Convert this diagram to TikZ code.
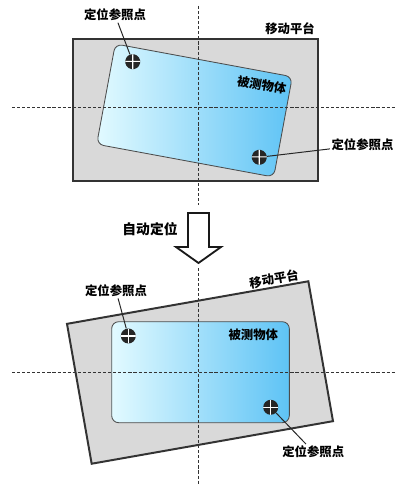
\documentclass[tikz,border=0pt]{standalone}
\usepackage{fontspec}
\setmainfont{Noto Sans CJK SC}
\definecolor{partL}{HTML}{E2FAFF}
\definecolor{partR}{HTML}{5EC3F5}
\begin{document}
\begin{tikzpicture}[x=0.025cm, y=-0.025cm,
    lbl/.style={font=\fontsize{8.8}{10}\selectfont\bfseries, inner sep=1pt},
    guide/.style={draw=black!80, line width=1.05pt, dash pattern=on 2.2pt off 1.4pt},
    stage/.style={draw=black!80, line width=1.4pt, fill=black!15, inner sep=0pt,
        minimum width=6.125cm, minimum height=3.55cm},
    part/.style={draw=black!70, line width=0.6pt, rounded corners=5pt, inner sep=0pt,
        left color=partL, right color=partR},
    refmark/.style={circle, fill=black!85, minimum size=0.375cm, inner sep=0pt,
        path picture={\draw[white, line width=0.8pt]
            (path picture bounding box.north) -- (path picture bounding box.south)
            (path picture bounding box.west) -- (path picture bounding box.east);}},
    leader/.style={draw=black!85, line width=0.7pt}]

    \useasboundingbox (0,0) rectangle (400,498);

    % platform and part, before
    \node[stage] (stage1) at (195.5,110) {};
    \node[part, minimum width=4.5cm, minimum height=2.55cm, rotate=-10.5] (part1) at (194.5,110.5) {};

    % centre lines
    \draw[guide] (12,107.7) -- (395,107.7);
    \draw[guide] (198.7,6) -- (198.7,205);

    \node[refmark, rotate=-10.5] (m1) at (132.7,61.7) {};
    \node[refmark, rotate=-10.5] (m2) at (259.3,157.3) {};

    \node[lbl] (lblA) at (115,15) {定位参照点};
    \node[lbl] (lblB) at (362.5,145) {定位参照点};
    \node[lbl] (stagelbl1) at (290,29) {移动平台};
    \node[lbl, rotate=-10.5] (partlbl1) at (261.7,85) {被测物体};

    \draw[leader] (lblA) -- (m1);
    \draw[leader] (lblB) -- (m2);

    % big arrow
    \draw[black!90, line width=1.3pt, fill=white, line join=miter]
        (188,213) -- (209,213) -- (209,247) -- (221,247) -- (198.5,263)
        -- (176,247) -- (188,247) -- cycle;
    \node[lbl, font=\fontsize{9.8}{11}\selectfont\bfseries] (steplbl) at (150,229.5) {自动定位};

    % platform and part, after
    \node[stage, rotate=10] (stage2) at (200,372.5) {};
    \node[part, minimum width=4.44cm, minimum height=2.525cm] (part2) at (200.5,372.2) {};

    % centre lines
    \draw[guide] (12,372.7) -- (395,372.7);
    \draw[guide] (198.7,268) -- (198.7,485);

    \node[refmark] (m3) at (128.3,336) {};
    \node[refmark] (m4) at (270.7,407.3) {};

    \node[lbl] (lblC) at (116,290.7) {定位参照点};
    \node[lbl] (lblD) at (313.3,451.7) {定位参照点};
    \node[lbl, rotate=10] (stagelbl2) at (274,279) {移动平台};
    \node[lbl] (partlbl2) at (253.3,334.3) {被测物体};

    \draw[leader] (lblC) -- (m3);
    \draw[leader] (lblD) -- (m4);

\end{tikzpicture}
\end{document}
